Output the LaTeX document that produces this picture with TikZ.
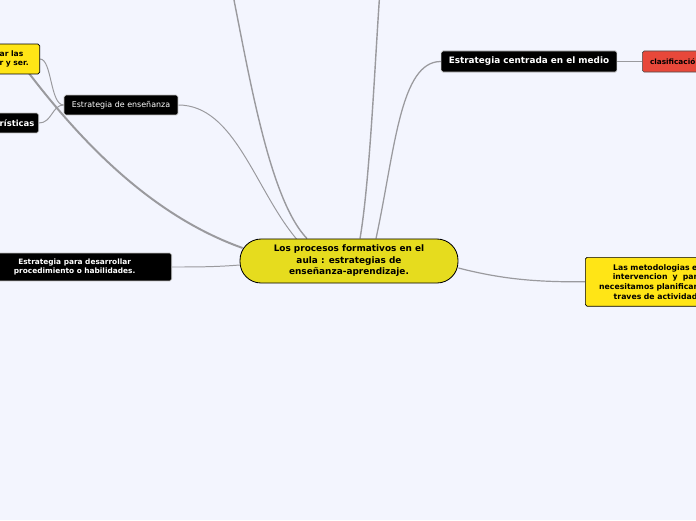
\documentclass[tikz,border=0pt]{standalone}
\usepackage{fontspec}
\setmainfont{DejaVu Sans}
\usepackage{xcolor}
\usetikzlibrary{arrows.meta, positioning, calc, shapes}

\definecolor{sfondo}{HTML}{F3F5FE}
\definecolor{giallo}{HTML}{E6DC1E}
\definecolor{giallochiaro}{HTML}{FFE516}
\definecolor{rosso}{HTML}{E8483A}
\definecolor{grigioramo}{HTML}{9A9A9E}

\pgfdeclarelayer{sotto}
\pgfdeclarelayer{rami}
\pgfsetlayers{sotto,rami,main}

\tikzset{
  centro/.style={draw=black, line width=0.6pt, fill=giallo, rounded corners=15pt,
    minimum width=155pt, minimum height=31.3pt, align=center,
    font=\fontsize{6.35}{8.2}\selectfont\bfseries},
  nero/.style={fill=black, draw=black!25, line width=0.5pt, rounded corners=1.2pt, text=white},
  giallobox/.style={fill=giallochiaro, draw=black, line width=0.5pt, rounded corners=1.2pt},
  rossobox/.style={fill=rosso, draw=black!70, line width=0.5pt, rounded corners=1.2pt},
  ramo/.style={draw=grigioramo, line width=#1},
  ramo/.default=0.9pt
}

\begin{document}
\begin{tikzpicture}[x=0.025cm, y=-0.025cm]
    \begin{pgfonlayer}{sotto}
        \fill[sfondo] (0,0) rectangle (696,520);
    \end{pgfonlayer}
    \useasboundingbox (0,0) rectangle (696,520);
    \clip (0,0) rectangle (696,520);

    % Nodo centrale
    \node[centro] (centro) at (349,261) {Los procesos formativos en el\\ aula : estrategias de\\ enseñanza-aprendizaje.};

    % Rami a destra
    \node[nero, minimum width=125pt, minimum height=15pt, font=\fontsize{6.3}{8}\selectfont\bfseries] (medio) at (529,61.5) {Estrategia centrada en el medio};
    \node[rossobox, anchor=west, text width=70pt, inner xsep=5.5pt, minimum height=15pt, align=left, font=\fontsize{5.2}{6.5}\selectfont\bfseries] (clasif) at (642,61.5) {clasificació};
    \node[giallobox, anchor=north west, text width=77.7pt, inner xsep=2pt, minimum height=34.8pt, align=right, font=\fontsize{5.5}{6.9}\selectfont\bfseries] (metodologias) at (585,257) {Las metodologias e\\ intervencion~ y~ par\\ necesitamos planificar\\ traves de actividad};

    % Rami a sinistra
    \node[nero, minimum width=81pt, minimum height=14.2pt, font=\fontsize{5.65}{7}\selectfont] (ensenanza) at (121,105) {Estrategia de enseñanza};
    \node[nero, anchor=east, minimum width=138pt, minimum height=19.9pt, align=center, font=\fontsize{5.25}{6.4}\selectfont\bfseries] (desarrollar) at (172,267) {Estrategia para desarrollar\\ procedimiento o habilidades.};
    \node[giallobox, anchor=east, text width=25.6pt, inner xsep=2.8pt, minimum height=21.3pt, align=left, font=\fontsize{5.4}{6.6}\selectfont\bfseries] (saber) at (40,59) {ar las\\ r y ser.};
    \node[nero, anchor=east, text width=24.7pt, inner xsep=3pt, minimum height=14.2pt, align=left, font=\fontsize{6}{7}\selectfont\bfseries] (risticas) at (39,123) {rísticas};

    \coordinate (fuori1) at (232,-10);
    \coordinate (fuori2) at (380,-10);
    \coordinate (sottobox) at (28,72);

    % Collegamenti
    \begin{pgfonlayer}{rami}
        \clip (0,0) rectangle (696,520);
        \draw[ramo] ($(centro.north)+(27,0)$) .. controls (395,150) and (400,61.5) .. (medio.west);
        \draw[ramo=1.1pt] (medio.east) -- (clasif.west);
        \draw[ramo=0.85pt] ($(centro.east)+(0,7)$) .. controls (505,280) and (540,282) .. (metodologias.west);
        \draw[ramo=0.7pt] ($(centro.west)+(0,4)$) .. controls (215,267) and (195,267) .. (desarrollar.east);
        \draw[ramo=0.7pt] ($(centro.north)+(-52,1)$) .. controls (255,190) and (235,105) .. (ensenanza.east);
        \draw[ramo=1pt] ($(centro.north)+(-42,0)$) .. controls (270,200) and (250,80) .. (fuori1);
        \draw[ramo=1pt] ($(centro.north)+(11,0)$) .. controls (370,180) and (375,60) .. (fuori2);
        \draw[ramo=1.4pt] ($(centro.west)+(3,-13)$) .. controls (150,215) and (80,140) .. (sottobox);
        \draw[ramo=0.7pt] (saber.east) .. controls (52,59) and (50,105) .. (ensenanza.west);
        \draw[ramo=0.7pt] (risticas.east) .. controls (52,123) and (52,105) .. (ensenanza.west);
    \end{pgfonlayer}
\end{tikzpicture}
\end{document}
